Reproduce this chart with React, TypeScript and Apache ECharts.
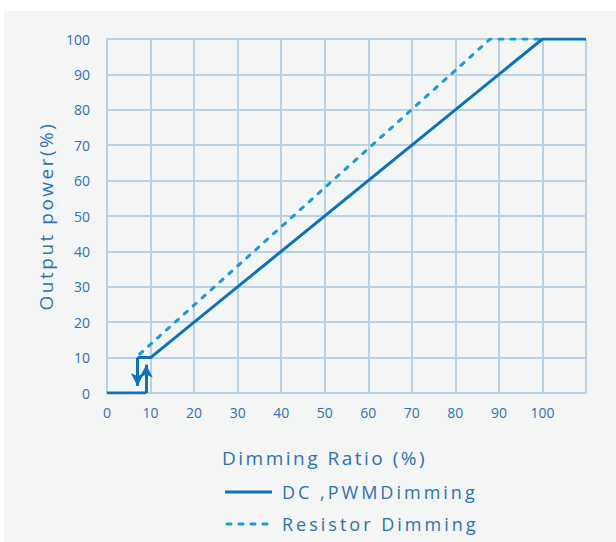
import React, { useEffect, useRef } from "react";
import * as echarts from "echarts";

// Tick values
const xTickMax = 100;
// Legend labels
const legendNames = ["DC ,PWMDimming", "Resistor Dimming"];
// Main DC/PWM dimming curve (solid)
const solidX = [7, 10, 100, 110];
const solidY = [10, 10, 100, 100];
// Resistor dimming curve (dashed)
const dashedX = [7.5, 88, 100];
const dashedY = [11, 100, 100];
// Off segment below turn-on point
const offX = [0, 9];
const offY = [0, 0];
// Hysteresis arrows [x, yStart, yEnd]
const upArrow = [9, 0, 8];
const downArrow = [7, 10, 2];

const SOLID = "#0b72bb";
const DASH = "#1a9ad8";
const TEXT = "#2f70b6";
const GRID = "#b9d1e7";
const FONT = "'Open Sans', 'Noto Sans', sans-serif";
const DASH_PATTERN = [4, 8];

export default function App() {
  const ref = useRef<HTMLDivElement>(null);
  useEffect(() => {
    if (!ref.current) return;
    const chart = echarts.init(ref.current, null, { renderer: "svg" });
    const zip = (xs: number[], ys: number[]) => xs.map((x, i) => [x, ys[i]]);
    chart.setOption({
      animation: false,
      backgroundColor: "#f4f5f5",
      grid: { left: 103, top: 28, right: 30, bottom: 149, containLabel: false },
      xAxis: {
        type: "value",
        min: 0,
        max: 110,
        interval: 10,
        axisLine: { show: true, lineStyle: { color: GRID, width: 2 } },
        axisTick: { show: false },
        splitLine: { show: true, lineStyle: { color: GRID, width: 2 } },
        axisLabel: {
          color: TEXT,
          fontSize: 14,
          fontFamily: FONT,
          margin: 12,
          formatter: (v: number) => (v > xTickMax ? "" : String(v)),
        },
      },
      yAxis: {
        type: "value",
        min: 0,
        max: 100,
        interval: 10,
        name: "Output power(%)",
        nameLocation: "middle",
        nameGap: 52,
        nameRotate: 90,
        nameTextStyle: { color: TEXT, fontSize: 19, fontFamily: FONT },
        axisLine: { show: true, lineStyle: { color: GRID, width: 2 } },
        axisTick: { show: false },
        splitLine: { show: true, lineStyle: { color: GRID, width: 2 } },
        axisLabel: { color: TEXT, fontSize: 14, fontFamily: FONT, margin: 17 },
      },
      graphic: [
        {
          type: "text",
          left: 218,
          top: 437,
          style: { text: "Dimming Ratio (%)", fill: TEXT, font: "19px " + FONT },
        },
        {
          type: "line",
          shape: { x1: 221, y1: 481, x2: 268, y2: 481 },
          style: { stroke: SOLID, lineWidth: 3 },
        },
        {
          type: "text",
          x: 278,
          y: 481,
          style: {
            text: legendNames[0],
            fill: TEXT,
            font: "18px " + FONT,
            verticalAlign: "middle",
          },
        },
        {
          type: "line",
          shape: { x1: 223, y1: 513, x2: 268, y2: 513 },
          style: { stroke: DASH, lineWidth: 3, lineDash: DASH_PATTERN, lineCap: "round" },
        },
        {
          type: "text",
          x: 278,
          y: 513,
          style: {
            text: legendNames[1],
            fill: TEXT,
            font: "18px " + FONT,
            verticalAlign: "middle",
          },
        },
      ],
      series: [
        {
          name: legendNames[0],
          type: "line",
          data: zip(solidX, solidY),
          symbol: "none",
          lineStyle: { color: SOLID, width: 3, join: "round" },
          itemStyle: { color: SOLID },
          z: 3,
        },
        {
          name: legendNames[1],
          type: "line",
          data: zip(dashedX, dashedY),
          symbol: "none",
          lineStyle: { color: DASH, width: 3, type: DASH_PATTERN, cap: "round" },
          itemStyle: { color: DASH },
          z: 2,
        },
        {
          name: "off",
          type: "line",
          data: zip(offX, offY),
          symbol: "none",
          lineStyle: { color: SOLID, width: 3 },
          itemStyle: { color: SOLID },
          z: 3,
          markLine: {
            silent: true,
            symbol: ["none", "arrow"],
            symbolSize: [10, 13],
            label: { show: false },
            lineStyle: { color: SOLID, width: 3, type: "solid" },
            data: [
              [{ coord: [upArrow[0], upArrow[1]] }, { coord: [upArrow[0], upArrow[2]] }],
              [{ coord: [downArrow[0], downArrow[1]] }, { coord: [downArrow[0], downArrow[2]] }],
            ],
          },
        },
      ],
    });
    return () => chart.dispose();
  }, []);
  return (
    <div style={{ position: "fixed", left: 0, top: 0, width: 616, height: 542, background: "#fff" }}>
      <style>{`
        .chartbox text[style*="19px"] { letter-spacing: 2.5px; }
        .chartbox text[style*="18px"] { letter-spacing: 3px; }
      `}</style>
      <div
        ref={ref}
        className="chartbox"
        style={{ position: "absolute", left: 4, top: 11, width: 612, height: 531 }}
      />
    </div>
  );
}
